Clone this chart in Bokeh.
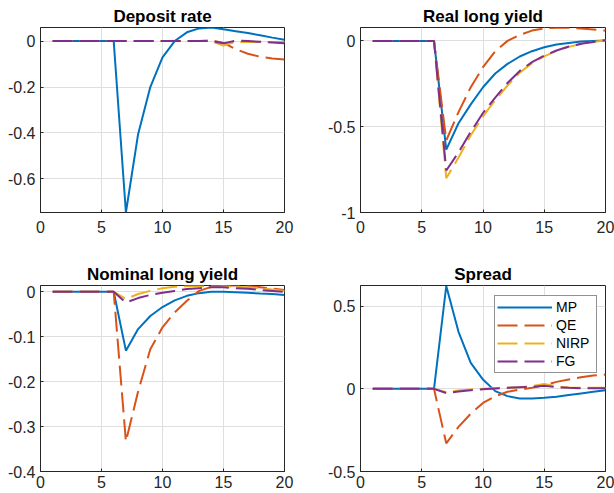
from bokeh.plotting import figure
from bokeh.models import Range1d, FixedTicker, CustomJSTickFormatter, Legend, LegendItem
from bokeh.layouts import column, row
from bokeh.embed import file_html
from bokeh.resources import INLINE

# ---------------- data ----------------
periods = list(range(1, 21))
series_names = ["MP", "QE", "NIRP", "FG"]
titles = ["Deposit rate", "Real long yield", "Nominal long yield", "Spread"]

deposit_mp = [0, 0, 0, 0, 0, 0, -0.746, -0.405, -0.20, -0.071, 0.0, 0.038, 0.055, 0.059,
              0.051, 0.043, 0.035, 0.025, 0.015, 0.006]
deposit_qe = [0, 0, 0, 0, 0, 0, 0, 0, 0, 0, 0, 0, 0, 0.004,
              -0.008, -0.035, -0.055, -0.068, -0.076, -0.080]
deposit_nirp = [0, 0, 0, 0, 0, 0, 0, 0, 0, 0, 0, 0, 0, 0,
                -0.020, -0.004, -0.004, -0.004, -0.004, -0.004]
deposit_fg = [0, 0, 0, 0, 0, 0, 0, 0, 0, 0, 0, 0, 0, 0,
              -0.010, 0.002, 0.0, -0.003, -0.006, -0.009]

real_mp = [0, 0, 0, 0, 0, 0, -0.634, -0.48, -0.37, -0.27, -0.19, -0.134, -0.091, -0.060,
           -0.037, -0.021, -0.012, -0.004, 0.0, 0.002]
real_qe = [0, 0, 0, 0, 0, 0, -0.58, -0.415, -0.27, -0.153, -0.06, 0.0, 0.035, 0.060,
           0.073, 0.077, 0.076, 0.072, 0.066, 0.060]
real_nirp = [0, 0, 0, 0, 0, 0, -0.80, -0.68, -0.55, -0.44, -0.345, -0.26, -0.185, -0.130,
             -0.090, -0.058, -0.035, -0.018, -0.006, 0.004]
real_fg = [0, 0, 0, 0, 0, 0, -0.755, -0.65, -0.53, -0.42, -0.33, -0.245, -0.175, -0.124,
           -0.085, -0.056, -0.033, -0.017, -0.006, 0.004]

nominal_mp = [0, 0, 0, 0, 0, 0, -0.131, -0.083, -0.054, -0.034, -0.019, -0.009, -0.003, 0.0,
              0.0, -0.001, -0.002, -0.004, -0.005, -0.007]
nominal_qe = [0, 0, 0, 0, 0, 0, -0.333, -0.222, -0.128, -0.079, -0.046, -0.020, 0.002, 0.011,
              0.014, 0.014, 0.013, 0.010, 0.007, 0.004]
nominal_nirp = [0, 0, 0, 0, 0, 0, -0.016, -0.005, 0.002, 0.008, 0.011, 0.013, 0.013, 0.013,
                0.013, 0.011, 0.010, 0.008, 0.005, 0.002]
nominal_fg = [0, 0, 0, 0, 0, 0, -0.024, -0.014, -0.007, -0.002, 0.002, 0.006, 0.008, 0.010,
              0.010, 0.008, 0.007, 0.004, 0.002, 0.0]

spread_mp = [0, 0, 0, 0, 0, 0, 0.622, 0.345, 0.157, 0.056, -0.014, -0.044, -0.058, -0.058,
             -0.054, -0.048, -0.038, -0.028, -0.018, -0.008]
spread_qe = [0, 0, 0, 0, 0, 0, -0.33, -0.23, -0.15, -0.085, -0.045, -0.018, -0.004, 0.006,
             0.022, 0.042, 0.056, 0.070, 0.080, 0.086]
spread_nirp = [0, 0, 0, 0, 0, 0, -0.020, -0.010, -0.004, 0.0, 0.004, 0.006, 0.010, 0.016,
               0.030, 0.016, 0.008, 0.006, 0.006, 0.006]
spread_fg = [0, 0, 0, 0, 0, 0, -0.026, -0.016, -0.008, -0.002, 0.002, 0.006, 0.010, 0.012,
             0.018, 0.010, 0.006, 0.004, 0.004, 0.004]

x_ticks = [0, 5, 10, 15, 20]
deposit_ticks = [-0.6, -0.4, -0.2, 0]
real_ticks = [-1, -0.5, 0]
nominal_ticks = [-0.4, -0.3, -0.2, -0.1, 0]
spread_ticks = [-0.5, 0, 0.5]

# ---------------- style ----------------
COLORS = ["#0072BD", "#D95319", "#EDB120", "#7E2F8E"]
DASHES = ["solid", "20 7", "20 7", "20 7"]
FONT = "Liberation Sans"
AX = "#262626"


def make_panel(title, data, y_lo, y_hi, y_ticks, width, height, bl, br, bt, bb, xstand):
    p = figure(width=width, height=height, output_backend="svg", toolbar_location=None,
               x_range=Range1d(0, 20), y_range=Range1d(y_lo, y_hi), title=title,
               min_border_left=bl, min_border_right=br, min_border_top=bt, min_border_bottom=bb,
               background_fill_color="white", border_fill_color="white")
    p.title.align = "center"
    p.title.text_font = FONT
    p.title.text_font_size = "17px"
    p.title.text_font_style = "bold"
    p.title.text_color = "black"
    p.title.standoff = 4
    p.title.offset = 0

    p.xaxis.ticker = FixedTicker(ticks=x_ticks)
    p.yaxis.ticker = FixedTicker(ticks=y_ticks)
    p.xaxis.formatter = CustomJSTickFormatter(code="return tick.toString();")
    p.yaxis.formatter = CustomJSTickFormatter(code="return tick.toString();")
    for ax in (p.xaxis[0], p.yaxis[0]):
        ax.axis_line_color = AX
        ax.major_tick_line_color = AX
        ax.major_tick_in = 3
        ax.major_tick_out = 0
        ax.minor_tick_line_color = None
        ax.major_label_text_font = FONT
        ax.major_label_text_font_size = "16px"
        ax.major_label_text_color = AX
    p.xaxis.major_label_standoff = xstand
    p.yaxis.major_label_standoff = 5

    p.grid.grid_line_color = "#dfdfdf"
    p.grid.grid_line_width = 1
    p.outline_line_color = AX
    p.outline_line_alpha = 1
    p.outline_line_width = 1

    renderers = []
    for ys, c, d in zip(data, COLORS, DASHES):
        r = p.line(periods, ys, line_color=c, line_width=2, line_dash=d)
        renderers.append(r)
    return p, renderers


p1, _ = make_panel(titles[0], [deposit_mp, deposit_qe, deposit_nirp, deposit_fg],
                   -0.746, 0.059, deposit_ticks, 307, 246, 40, 23, 27, 34, 8)
p2, _ = make_panel(titles[1], [real_mp, real_qe, real_nirp, real_fg],
                   -1, 0.078, real_ticks, 307, 246, 53, 9, 27, 34, 8)
p3, _ = make_panel(titles[2], [nominal_mp, nominal_qe, nominal_nirp, nominal_fg],
                   -0.4, 0.014, nominal_ticks, 307, 247, 40, 23, 39, 22, 4)
p4, rs = make_panel(titles[3], [spread_mp, spread_qe, spread_nirp, spread_fg],
                    -0.5, 0.625, spread_ticks, 307, 247, 53, 9, 38, 22, 4)

legend = Legend(items=[LegendItem(label=n, renderers=[r]) for n, r in zip(series_names, rs)],
                location=(134, 98), orientation="vertical",
                padding=2, margin=0, spacing=0,
                glyph_width=55, glyph_height=18, label_height=18, label_width=38,
                label_standoff=4,
                label_text_font=FONT, label_text_font_size="14px", label_text_color="black",
                border_line_color=AX, border_line_width=1,
                background_fill_color="white", background_fill_alpha=1)
p4.add_layout(legend, "center")

layout = column(row(p1, p2), row(p3, p4))

open("out.html", "w").write(file_html(layout, INLINE))
